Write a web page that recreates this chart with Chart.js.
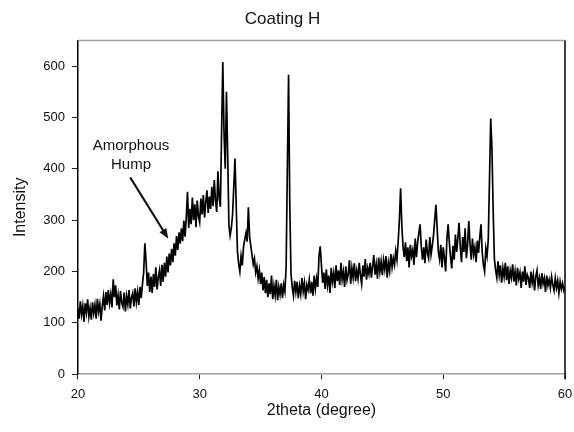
<!DOCTYPE html>
<html lang="en">
  <head>
    <meta charset="UTF-8" />
    <title>Coating H</title>
    <script src="https://cdn.jsdelivr.net/npm/chart.js"></script>
    <style>
      html, body { margin: 0; padding: 0; background: #fff; }
      #wrap { width: 574px; height: 432px; }
    </style>
  </head>
  <body>
    <div id="wrap"><canvas id="xrdChart"></canvas></div>

    <script>
      // 2theta scan, 20.0 to 60.0 deg in 0.1 deg steps (one row per degree)
      const startAngle = 20;
      const stepAngle = 0.1;
      const intensity = [
        128, 108, 142, 116, 133, 102, 138, 120, 146, 112,
        129, 106, 140, 119, 135, 108, 147, 122, 137, 104,
        133, 152, 124, 160, 135, 164, 138, 156, 130, 185,
        150, 173, 134, 154, 126, 162, 139, 131, 159, 122,
        152, 136, 164, 128, 149, 158, 132, 167, 140, 160,
        135, 170, 148, 175, 198, 255, 220, 172, 198, 160,
        190, 158, 195, 170, 208, 165, 188, 202, 172, 213,
        180, 217, 190, 229, 198, 235, 212, 244, 218, 255,
        231, 269, 242, 276, 254, 284, 259, 299, 268, 305,
        355, 285, 322, 292, 344, 300, 331, 286, 338, 308,
        296, 342, 311, 349, 305, 334, 358, 314, 346, 322,
        365, 327, 378, 338, 316, 395, 342, 326, 470, 608,
        470, 400, 550, 430, 290, 270, 285, 310, 365, 420,
        330, 240, 215, 200, 230, 212, 248, 262, 275, 258,
        325, 268, 250, 232, 214, 225, 198, 210, 186, 203,
        176, 198, 163, 189, 158, 184, 150, 177, 156, 192,
        146, 172, 153, 184, 144, 170, 155, 177, 148, 174,
        161, 210, 400, 583, 330, 195, 170, 153, 182, 160,
        180, 148, 172, 156, 187, 161, 178, 146, 174, 164,
        184, 158, 180, 153, 192, 166, 187, 170, 230, 249,
        212, 178, 198, 166, 204, 173, 192, 158, 207, 180,
        197, 168, 212, 181, 202, 174, 217, 184, 200, 170,
        210, 183, 195, 222, 176, 207, 188, 216, 181, 202,
        186, 217, 193, 176, 212, 190, 224, 184, 207, 195,
        217, 188, 210, 232, 194, 214, 186, 227, 200, 220,
        193, 222, 204, 230, 188, 217, 201, 234, 208, 226,
        213, 240, 223, 258, 300, 362, 290, 248, 228, 257,
        220, 247, 208, 252, 230, 242, 213, 264, 228, 257,
        275, 292, 248, 223, 247, 216, 262, 236, 226, 267,
        233, 250, 270, 300, 330, 285, 238, 223, 252, 208,
        247, 226, 200, 262, 292, 257, 228, 206, 250, 223,
        272, 238, 264, 295, 248, 218, 267, 238, 284, 226,
        252, 298, 253, 223, 264, 233, 247, 218, 260, 236,
        267, 292, 238, 213, 200, 245, 230, 262, 380, 498,
        440, 320, 225, 203, 188, 220, 193, 212, 178, 207,
        190, 217, 183, 210, 176, 202, 188, 214, 180, 200,
        173, 207, 186, 198, 168, 200, 180, 210, 174, 194,
        187, 168, 200, 178, 194, 163, 190, 202, 173, 187,
        166, 197, 176, 187, 160, 192, 173, 184, 168, 190,
        174, 163, 187, 168, 182, 158, 180, 166, 177, 163,
        170
      ];
      const xTicks = [20, 30, 40, 50, 60];
      const yTicks = [0, 100, 200, 300, 400, 500, 600];

      // annotation text + arrow, in data units
      const noteLines = ["Amorphous", "Hump"];
      const noteAt = { x: 24.36, y: [445, 408] };
      const arrowFrom = { x: 24.3, y: 383 };
      const arrowTo = { x: 27.42, y: 264 };

      const points = intensity.map((v, i) => ({ x: +(startAngle + i * stepAngle).toFixed(1), y: v }));

      const FONT = "'Liberation Sans', Arial, sans-serif";

      // top (grey) and right (black) frame lines
      const framePlugin = {
        id: "frame",
        afterDraw(chart) {
          const { ctx, chartArea: a } = chart;
          ctx.save();
          ctx.lineWidth = 1.5;
          ctx.strokeStyle = "#a0a0a0";
          ctx.beginPath();
          ctx.moveTo(a.left, a.top);
          ctx.lineTo(a.right, a.top);
          ctx.stroke();
          ctx.strokeStyle = "#000";
          ctx.beginPath();
          ctx.moveTo(a.right, a.top);
          ctx.lineTo(a.right, a.bottom + 5);
          ctx.stroke();
          ctx.restore();
        }
      };

      const humpPlugin = {
        id: "hump",
        afterDatasetsDraw(chart) {
          const { ctx, scales: { x, y } } = chart;
          ctx.save();
          ctx.fillStyle = "#111";
          ctx.font = "15px " + FONT;
          ctx.textAlign = "center";
          ctx.textBaseline = "middle";
          noteLines.forEach((t, i) => {
            ctx.fillText(t, x.getPixelForValue(noteAt.x), y.getPixelForValue(noteAt.y[i]));
          });
          const x1 = x.getPixelForValue(arrowFrom.x), y1 = y.getPixelForValue(arrowFrom.y);
          const x2 = x.getPixelForValue(arrowTo.x), y2 = y.getPixelForValue(arrowTo.y);
          const ang = Math.atan2(y2 - y1, x2 - x1);
          ctx.strokeStyle = "#111";
          ctx.lineWidth = 2.2;
          ctx.beginPath();
          ctx.moveTo(x1, y1);
          ctx.lineTo(x2 - 6 * Math.cos(ang), y2 - 6 * Math.sin(ang));
          ctx.stroke();
          ctx.beginPath();
          ctx.moveTo(x2, y2);
          ctx.lineTo(x2 - 10 * Math.cos(ang) + 4 * Math.sin(ang), y2 - 10 * Math.sin(ang) - 4 * Math.cos(ang));
          ctx.lineTo(x2 - 10 * Math.cos(ang) - 4 * Math.sin(ang), y2 - 10 * Math.sin(ang) + 4 * Math.cos(ang));
          ctx.closePath();
          ctx.fill();
          ctx.restore();
        }
      };

      new Chart(document.getElementById("xrdChart"), {
        type: "line",
        data: {
          datasets: [{
            data: points,
            borderColor: "#000",
            borderWidth: 1.7,
            pointRadius: 0,
            tension: 0,
            fill: false
          }]
        },
        options: {
          responsive: true,
          maintainAspectRatio: false,
          animation: false,
          events: [],
          layout: { padding: { left: 0, right: 9, top: 0, bottom: 12 } },
          plugins: {
            legend: { display: false },
            tooltip: { enabled: false },
            title: {
              display: true,
              text: "Coating H",
              color: "#111",
              font: { family: FONT, size: 17, weight: "normal" },
              padding: { top: 9, bottom: 11 }
            }
          },
          scales: {
            x: {
              type: "linear",
              min: 20,
              max: 60,
              afterBuildTicks: (axis) => { axis.ticks = xTicks.map((v) => ({ value: v })); },
              afterFit: (axis) => { axis.paddingRight = 0; },
              ticks: { color: "#111", padding: 7, font: { family: FONT, size: 13 }, maxRotation: 0 },
              grid: { display: true, drawOnChartArea: false, drawTicks: true, tickLength: 5, color: "#222" },
              border: { display: true, color: "#a0a0a0", width: 1.5 },
              title: {
                display: true,
                text: "2theta (degree)",
                color: "#111",
                font: { family: FONT, size: 16 },
                padding: { top: -8, bottom: 0 }
              }
            },
            y: {
              min: 0,
              max: 650,
              afterBuildTicks: (axis) => { axis.ticks = yTicks.map((v) => ({ value: v })); },
              ticks: { color: "#111", padding: 7, font: { family: FONT, size: 13 } },
              grid: { display: true, drawOnChartArea: false, drawTicks: true, tickLength: 6, color: "#222" },
              border: { display: true, color: "#000", width: 1.5 },
              title: {
                display: true,
                text: "Intensity",
                color: "#111",
                font: { family: FONT, size: 16 },
                padding: { top: 11, bottom: 6 }
              }
            }
          }
        },
        plugins: [framePlugin, humpPlugin]
      });
    </script>
  </body>
</html>
